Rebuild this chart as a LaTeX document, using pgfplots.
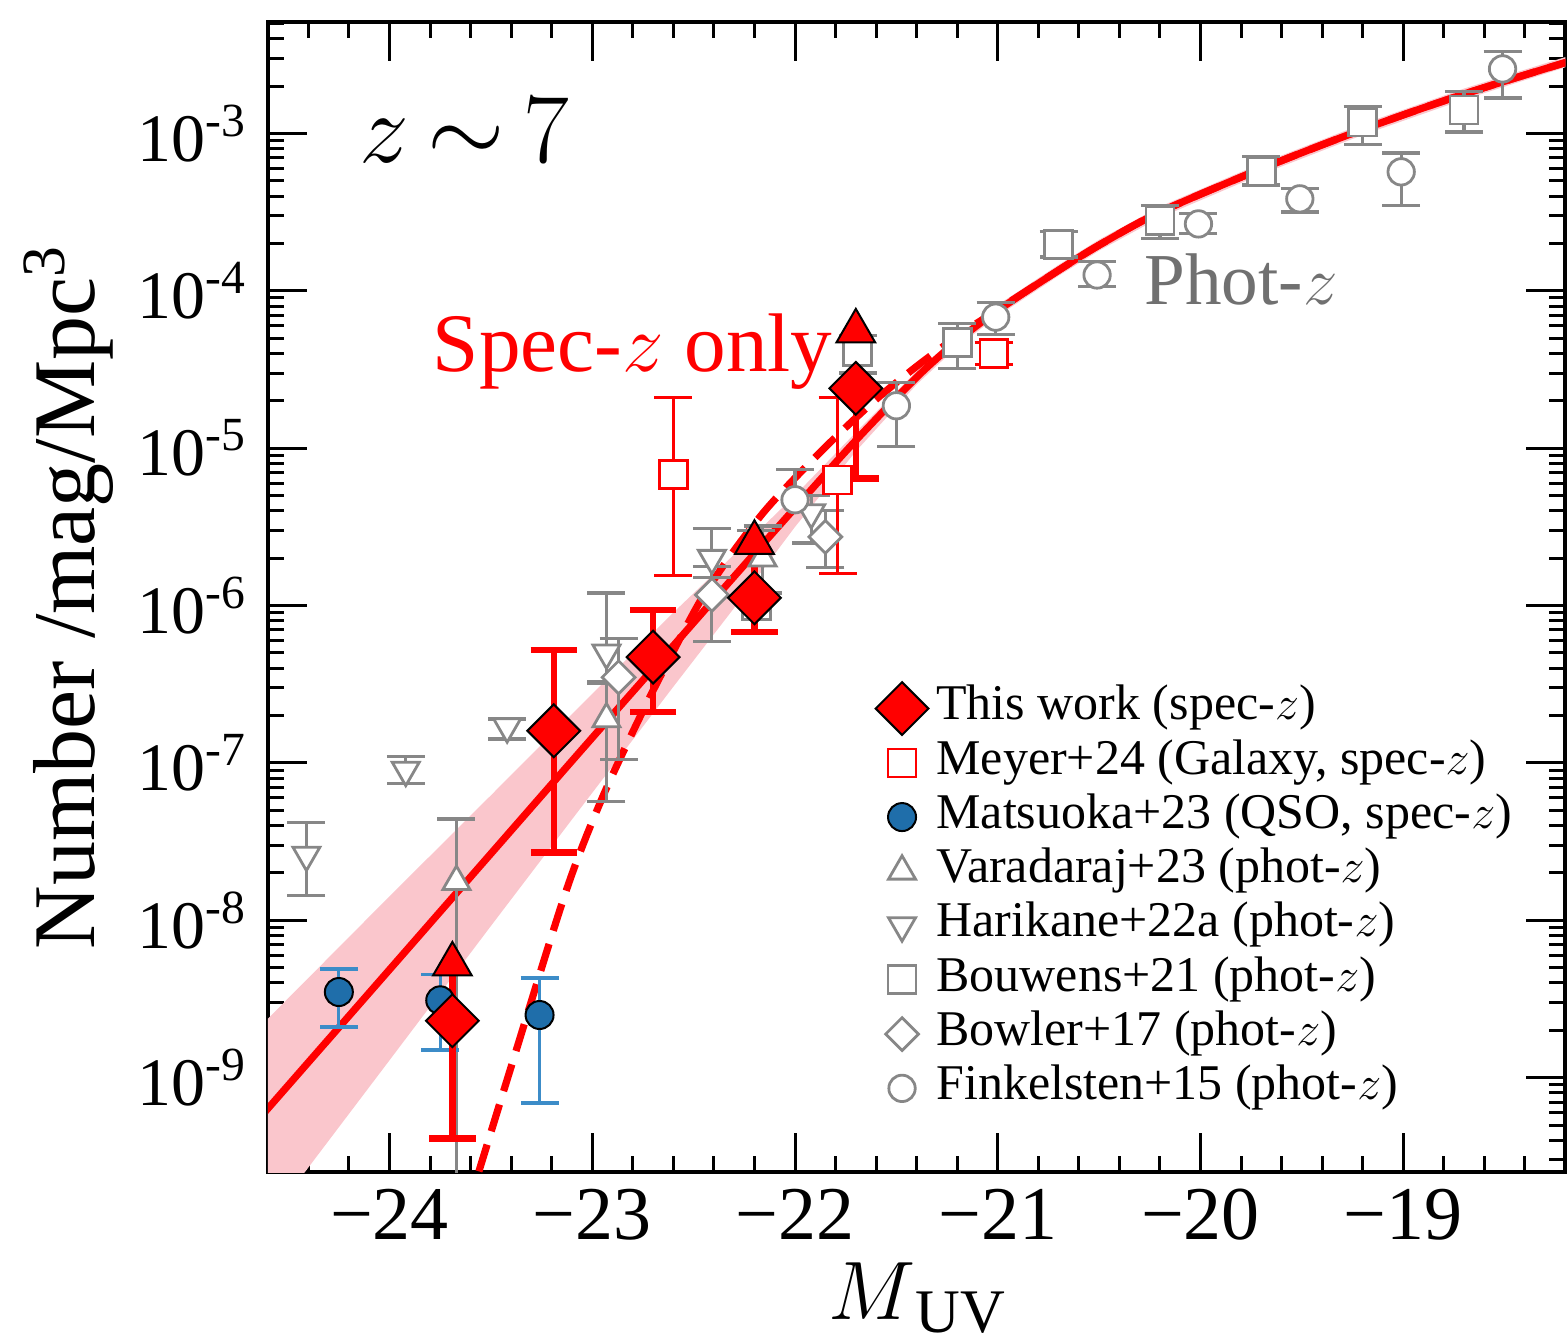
\documentclass[border=0pt]{standalone}
\usepackage[no-math]{fontspec}
\setmainfont{Liberation Serif}
\usepackage{pgfplots}
\pgfplotsset{compat=1.18}
\usepgfplotslibrary{fillbetween}
\definecolor{bandpink}{RGB}{250,198,204}
\definecolor{phgray}{RGB}{135,135,135}
\definecolor{qsoblue}{RGB}{31,110,170}
\definecolor{qsoerr}{RGB}{60,140,200}
\definecolor{txtgray}{RGB}{112,112,112}
\pgfdeclareplotmark{sqdiamond}{%
  \pgfpathmoveto{\pgfqpoint{0pt}{\pgfplotmarksize}}%
  \pgfpathlineto{\pgfqpoint{\pgfplotmarksize}{0pt}}%
  \pgfpathlineto{\pgfqpoint{0pt}{-\pgfplotmarksize}}%
  \pgfpathlineto{\pgfqpoint{-\pgfplotmarksize}{0pt}}%
  \pgfpathclose\pgfusepathqfillstroke}
\pgfdeclareplotmark{invtri}{%
  \pgfpathmoveto{\pgfqpoint{0pt}{-\pgfplotmarksize}}%
  \pgfpathlineto{\pgfqpoint{0.866\pgfplotmarksize}{0.5\pgfplotmarksize}}%
  \pgfpathlineto{\pgfqpoint{-0.866\pgfplotmarksize}{0.5\pgfplotmarksize}}%
  \pgfpathclose\pgfusepathqfillstroke}
\pgfplotsset{
  twd/.style={only marks, mark=sqdiamond, mark size=6.6pt, mark options={fill=red, draw=black, line width=0.5pt}},
  twt/.style={only marks, mark=triangle*, mark size=5.6pt, mark options={fill=red, draw=black, line width=0.5pt}},
  mey/.style={only marks, mark=square*, mark size=3.5pt, mark options={fill=white, draw=red, line width=0.6pt}},
  mat/.style={only marks, mark=*, mark size=3.5pt, mark options={fill=qsoblue, draw=black, line width=0.5pt}},
  var/.style={only marks, mark=triangle*, mark size=3.9pt, mark options={fill=white, draw=phgray, line width=0.7pt}},
  har/.style={only marks, mark=invtri, mark size=3.9pt, mark options={fill=white, draw=phgray, line width=0.7pt}},
  bou/.style={only marks, mark=square*, mark size=3.5pt, mark options={fill=white, draw=phgray, line width=0.7pt}},
  bow/.style={only marks, mark=sqdiamond, mark size=4.1pt, mark options={fill=white, draw=phgray, line width=0.7pt}},
  fin/.style={only marks, mark=*, mark size=3.3pt, mark options={fill=white, draw=phgray, line width=0.7pt}},
  ebar/.style n args={3}{/pgfplots/error bars/y dir=both, /pgfplots/error bars/y explicit,
     /pgfplots/error bars/error bar style={line width=#2, #1},
     /pgfplots/error bars/error mark options={rotate=90, mark size=#3, line width=#2, #1}},
}
\begin{document}
\begin{tikzpicture}
\begin{axis}[
  scale only axis, width=324.5pt, height=287.7pt,
  ymode=log, xmin=-24.6, xmax=-18.2, ymin=2.512e-10, ymax=5.13e-3,
  xtick={-24,-23,-22,-21,-20,-19},
  xticklabels={−24,−23,−22,−21,−20,−19},
  minor xtick={-24.6,-24.4,...,-18.2},
  ytick={1e-9,1e-8,1e-7,1e-6,1e-5,1e-4,1e-3},
  yticklabels={10\textsuperscript{-9},10\textsuperscript{-8},10\textsuperscript{-7},10\textsuperscript{-6},10\textsuperscript{-5},10\textsuperscript{-4},10\textsuperscript{-3}},
  minor ytick={3e-10,4e-10,5e-10,6e-10,7e-10,8e-10,9e-10,
    2e-9,3e-9,4e-9,5e-9,6e-9,7e-9,8e-9,9e-9,
    2e-8,3e-8,4e-8,5e-8,6e-8,7e-8,8e-8,9e-8,
    2e-7,3e-7,4e-7,5e-7,6e-7,7e-7,8e-7,9e-7,
    2e-6,3e-6,4e-6,5e-6,6e-6,7e-6,8e-6,9e-6,
    2e-5,3e-5,4e-5,5e-5,6e-5,7e-5,8e-5,9e-5,
    2e-4,3e-4,4e-4,5e-4,6e-4,7e-4,8e-4,9e-4,
    2e-3,3e-3,4e-3,5e-3},
  tick align=inside,
  major tick length=9.75pt, minor tick length=4pt,
  tick style={black, line width=0.75pt},
  axis line style={line width=1pt},
  xticklabel style={font=\fontsize{19}{19}\selectfont, inner sep=0pt, yshift=-4pt},
  yticklabel style={font=\fontsize{17}{17}\selectfont, inner sep=0pt, xshift=-5pt},
  xlabel={$M$\raisebox{-0.15em}{\fontsize{15.5}{15.5}\selectfont UV}},
  ylabel={Number /mag/Mpc\textsuperscript{3}},
  xlabel style={font=\fontsize{22}{22}\selectfont, at={(axis description cs:0.5,-0.128)}, anchor=base},
  ylabel style={font=\fontsize{22}{22}\selectfont, at={(axis description cs:-0.1333,0.5)}, anchor=base},
  legend cell align=left,
  legend style={at={(rel axis cs:0.4684,0.4265)}, anchor=north west, draw=none, fill=none,
     inner sep=0pt, outer sep=0pt, row sep=0pt,
     font=\fontsize{12.5}{13.5}\selectfont,
     nodes={inner sep=0pt, text height=9.6pt, text depth=3.97pt},
     /tikz/every odd column/.append style={column sep=2pt}},
]
% uncertainty band
\addplot[name path=bandup, draw=none, forget plot] coordinates {
(-24.65,2.04e-9) (-24.0,1.42e-8) (-23.5,6.22e-8) (-23.0,2.75e-7) (-22.6,9.02e-7) (-22.3,2.11e-6)
(-22.0,5.01e-6) (-21.7,1.259e-5) (-21.4,3.09e-5) (-21.2,5.19e-5) (-21.0,8.13e-5) (-20.7,1.462e-4)
(-20.5,2.113e-4) (-20.2,3.428e-4) (-19.7,6.457e-4) (-19.2,1.148e-3) (-18.7,1.928e-3) (-18.15,3.2e-3)};
\addplot[name path=bandlo, draw=none, forget plot] coordinates {
(-24.65,1.01e-10) (-24.0,1.29e-9) (-23.5,9.20e-9) (-23.0,6.46e-8) (-22.6,3.05e-7) (-22.3,9.66e-7)
(-22.0,3.16e-6) (-21.7,9.55e-6) (-21.4,2.54e-5) (-21.2,4.416e-5) (-21.0,6.918e-5) (-20.7,1.245e-4)
(-20.5,1.799e-4) (-20.2,2.917e-4) (-19.7,5.495e-4) (-19.2,9.772e-4) (-18.7,1.641e-3) (-18.15,2.76e-3)};
\addplot[bandpink, forget plot] fill between[of=bandup and bandlo];
% fits
\addplot[red, line width=1.8pt, smooth, forget plot] coordinates {
(-24.65,5.37e-10) (-24.0,4.86e-9) (-23.5,2.65e-8) (-23.0,1.445e-7) (-22.6,5.56e-7) (-22.3,1.53e-6)
(-22.0,4.17e-6) (-21.7,1.12e-5) (-21.4,2.82e-5) (-21.2,4.79e-5) (-21.0,7.50e-5) (-20.7,1.349e-4)
(-20.5,1.95e-4) (-20.2,3.162e-4) (-19.7,5.96e-4) (-19.2,1.059e-3) (-18.7,1.778e-3) (-18.15,2.95e-3)};
\addplot[red, line width=1.8pt, smooth, dash pattern=on 7pt off 3.5pt, forget plot] coordinates {
(-23.62,1.41e-10) (-23.4,1.175e-9) (-23.128,1.55e-8) (-22.95,6.03e-8) (-22.754,2.09e-7) (-22.6,5.13e-7)
(-22.458,1.12e-6) (-22.3,2.24e-6) (-22.15,3.98e-6) (-22.0,6.46e-6) (-21.8,1.175e-5) (-21.6,2.04e-5)
(-21.4,3.31e-5) (-21.2,5.13e-5) (-21.0,7.59e-5) (-20.7,1.349e-4) (-20.5,1.95e-4) (-20.2,3.162e-4)
(-19.7,5.96e-4) (-19.2,1.059e-3) (-18.7,1.778e-3) (-18.15,2.95e-3)};
% Harikane+22a
\addplot[forget plot, har, ebar={phgray}{0.8pt}{4.75pt}] table[x=x, y=y, y error plus expr=\thisrow{hi}-\thisrow{y}, y error minus expr=\thisrow{y}-\thisrow{lo}] {
x y lo hi
-24.41 2.6e-8 1.43e-8 4.2e-8
-23.92 9.0e-8 7.4e-8 1.1e-7
-23.42 1.7e-7 1.42e-7 1.9e-7
-22.93 5.0e-7 3.2e-7 1.2e-6
-22.41 2.0e-6 1.5e-6 3.1e-6
-21.92 3.9e-6 2.5e-6 5.0e-6
};
% Varadaraj+23
\addplot[forget plot, var, ebar={phgray}{0.8pt}{4.75pt}] table[x=x, y=y, y error plus expr=\thisrow{hi}-\thisrow{y}, y error minus expr=\thisrow{y}-\thisrow{lo}] {
x y lo hi
-23.67 1.76e-8 1e-14 4.4e-8
-22.93 1.9e-7 5.7e-8 3.3e-7
-22.16 2.0e-6 1.2e-6 3.2e-6
};
% Bowler+17
\addplot[forget plot, bow, ebar={phgray}{0.8pt}{4.75pt}] table[x=x, y=y, y error plus expr=\thisrow{hi}-\thisrow{y}, y error minus expr=\thisrow{y}-\thisrow{lo}] {
x y lo hi
-22.87 3.5e-7 1.05e-7 6.2e-7
-22.41 1.17e-6 5.9e-7 1.76e-6
-21.85 2.73e-6 1.74e-6 4.0e-6
};
% Bouwens+21
\addplot[forget plot, bou, ebar={phgray}{0.8pt}{4.75pt}] table[x=x, y=y, y error plus expr=\thisrow{hi}-\thisrow{y}, y error minus expr=\thisrow{y}-\thisrow{lo}] {
x y lo hi
-22.19 1.0e-6 1e-14 3.0e-6
-21.69 4.1e-5 3.0e-5 5.2e-5
-21.20 4.7e-5 3.2e-5 6.2e-5
-20.70 1.96e-4 1.64e-4 2.37e-4
-20.20 2.8e-4 2.14e-4 3.5e-4
-19.70 5.7e-4 4.7e-4 7.1e-4
-19.20 1.18e-3 8.5e-4 1.48e-3
-18.70 1.41e-3 1.02e-3 1.84e-3
};
% Finkelstein+15
\addplot[forget plot, fin, ebar={phgray}{0.8pt}{4.75pt}] table[x=x, y=y, y error plus expr=\thisrow{hi}-\thisrow{y}, y error minus expr=\thisrow{y}-\thisrow{lo}] {
x y lo hi
-22.00 4.7e-6 1e-14 7.3e-6
-21.50 1.86e-5 1.02e-5 2.6e-5
-21.01 6.8e-5 5.3e-5 8.4e-5
-20.51 1.26e-4 1.06e-4 1.53e-4
-20.01 2.66e-4 2.3e-4 3.1e-4
-19.51 3.84e-4 3.17e-4 4.45e-4
-19.01 5.7e-4 3.5e-4 7.5e-4
-18.51 2.57e-3 1.68e-3 3.3e-3
};
% Meyer+24
\addplot[forget plot, mey, ebar={red}{0.7pt}{4.75pt}] table[x=x, y=y, y error plus expr=\thisrow{hi}-\thisrow{y}, y error minus expr=\thisrow{y}-\thisrow{lo}] {
x y lo hi
-22.60 6.8e-6 1.55e-6 2.1e-5
-21.79 6.3e-6 1.6e-6 2.1e-5
-21.02 4.0e-5 3.4e-5 4.7e-5
};
% Matsuoka+23
\addplot[forget plot, mat, ebar={qsoerr}{0.8pt}{4.75pt}] table[x=x, y=y, y error plus expr=\thisrow{hi}-\thisrow{y}, y error minus expr=\thisrow{y}-\thisrow{lo}] {
x y lo hi
-24.25 3.5e-9 2.1e-9 4.9e-9
-23.75 3.1e-9 1.5e-9 4.5e-9
-23.26 2.5e-9 6.9e-10 4.3e-9
};
% This work: upper bars up to the triangles
\addplot[red, line width=1.6pt, forget plot] coordinates {(-23.69,2.3e-9) (-23.69,5.25e-9)};
\addplot[red, line width=1.6pt, forget plot] coordinates {(-22.20,1.12e-6) (-22.20,2.51e-6)};
\addplot[red, line width=1.6pt, forget plot] coordinates {(-21.70,2.4e-5) (-21.70,5.53e-5)};
% This work: triangles
\addplot[forget plot, twt] coordinates {(-23.69,5.25e-9) (-22.20,2.51e-6) (-21.70,5.53e-5)};
% This work: diamonds
\addplot[forget plot, twd, ebar={red}{1.6pt}{5.8pt}, /pgfplots/error bars/y dir=minus] table[x=x, y=y, y error minus expr=\thisrow{y}-\thisrow{lo}] {
x y lo
-23.69 2.3e-9 4.1e-10
-22.20 1.12e-6 6.8e-7
-21.70 2.4e-5 6.4e-6
};
\addplot[forget plot, twd, ebar={red}{1.6pt}{5.8pt}] table[x=x, y=y, y error plus expr=\thisrow{hi}-\thisrow{y}, y error minus expr=\thisrow{y}-\thisrow{lo}] {
x y lo hi
-23.19 1.6e-7 2.7e-8 5.2e-7
-22.70 4.7e-7 2.1e-7 9.4e-7
};
% legend
\addlegendimage{twd}\addlegendentry{This work (spec-$z$)}
\addlegendimage{mey}\addlegendentry{Meyer+24 (Galaxy, spec-$z$)}
\addlegendimage{mat}\addlegendentry{Matsuoka+23 (QSO, spec-$z$)}
\addlegendimage{var}\addlegendentry{Varadaraj+23 (phot-$z$)}
\addlegendimage{har}\addlegendentry{Harikane+22a (phot-$z$)}
\addlegendimage{bou}\addlegendentry{Bouwens+21 (phot-$z$)}
\addlegendimage{bow}\addlegendentry{Bowler+17 (phot-$z$)}
\addlegendimage{fin}\addlegendentry{Finkelsten+15 (phot-$z$)}
% annotations
\node[anchor=base west, inner sep=0pt, text=red, font=\fontsize{20.8}{20.8}\selectfont] at (axis cs:-23.79,3.05e-5) {Spec-$z$ only};
\node[anchor=base west, inner sep=0pt, text=txtgray, font=\fontsize{18.3}{18.3}\selectfont] at (axis cs:-20.28,8.13e-5) {Phot-$z$};
\node[anchor=base west, inner sep=0pt, font=\fontsize{23.5}{23.5}\selectfont] at (axis cs:-24.15,6.5e-4) {$z\mskip3.3mu{\sim}\mskip3.3mu7$};
\end{axis}
\pgfresetboundingbox
\path[use as bounding box] ([xshift=-67pt,yshift=-42.875pt]current axis.south west) rectangle ([xshift=0.4pt,yshift=5.425pt]current axis.north east);
\end{tikzpicture}
\end{document}
